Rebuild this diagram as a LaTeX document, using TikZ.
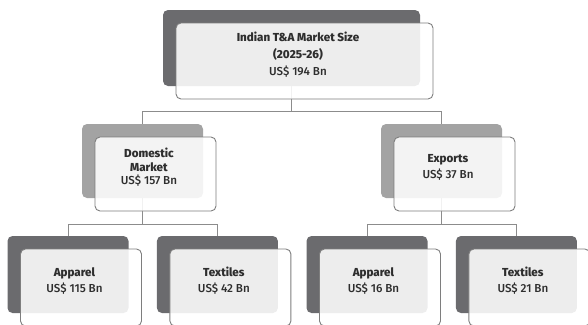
\documentclass[tikz,border=0pt]{standalone}
\usepackage{fontspec}
\setmainfont{Fira Sans}
\newfontfamily\medfont{Fira Sans Medium}
\usetikzlibrary{positioning}
\definecolor{boxdark}{HTML}{6B6B6E}
\definecolor{boxmid}{HTML}{A3A3A3}
\definecolor{edge}{HTML}{7E7E7E}
\definecolor{wire}{HTML}{8C8C8C}
\definecolor{ink}{HTML}{2E2E2E}
\begin{document}
\begin{tikzpicture}[
			x=1pt, y=-1pt,
			backbox/.style={fill=#1, rounded corners=5pt, inner sep=0pt},
			frontbox/.style={draw=edge, line width=0.9pt, fill=white, fill opacity=0.88, rounded corners=5pt, inner sep=0pt, xshift=13pt, yshift=-13pt},
			lvlone/.style={minimum width=257pt, minimum height=76pt},
			lvltwo/.style={minimum width=121pt, minimum height=74pt},
			lvlthree/.style={minimum width=121pt, minimum height=77pt},
			boxtext/.style={align=center, text=ink, inner sep=0pt, xshift=6.5pt, yshift=-6.5pt, font=\fontsize{11.6}{#1}\selectfont\medfont},
			link/.style={draw=wire, line width=0.8pt},
		]
			\useasboundingbox (0,0) rectangle (588,324);
			\clip (0,0) rectangle (588,324);

			% dark backing boxes
			\node[backbox=boxdark, lvlone] (top) at (291.5,48) {};
			\node[backbox=boxmid, lvltwo] (dom) at (142.5,161) {};
			\node[backbox=boxmid, lvltwo] (exp) at (441.5,161) {};
			\node[backbox=boxdark, lvlthree] (dapp) at (68,274.5) {};
			\node[backbox=boxdark, lvlthree, right=28pt of dapp] (dtex) {};
			\node[backbox=boxdark, lvlthree] (eapp) at (367,274.5) {};
			\node[backbox=boxdark, lvlthree, right=28pt of eapp] (etex) {};

			% tree links
			\draw[link] (top.south) -- ++(0,25) -| (dom.north);
			\draw[link] (top.south) -- ++(0,25) -| (exp.north);
			\draw[link] (dom.south) -- ++(0,26) -| (dapp.north);
			\draw[link] (dom.south) -- ++(0,26) -| (dtex.north);
			\draw[link] (exp.south) -- ++(0,26) -| (eapp.north);
			\draw[link] (exp.south) -- ++(0,26) -| (etex.north);

			% light outlined boxes
			\node[frontbox, lvlone] (topf) at (top) {};
			\node[frontbox, lvltwo] (domf) at (dom) {};
			\node[frontbox, lvltwo] (expf) at (exp) {};
			\node[frontbox, lvlthree] (dappf) at (dapp) {};
			\node[frontbox, lvlthree] (dtexf) at (dtex) {};
			\node[frontbox, lvlthree] (eappf) at (eapp) {};
			\node[frontbox, lvlthree] (etexf) at (etex) {};

			% texts
			\node[boxtext=17pt] (topt) at (top) {\textbf{Indian T\&A Market Size}\\\textbf{(2025-26)}\\US\$ 194 Bn};
			\node[boxtext=13.5pt] (domt) at (dom) {\textbf{Domestic}\\\textbf{Market}\\US\$ 157 Bn};
			\node[boxtext=16pt] (expt) at (exp) {\textbf{Exports}\\US\$ 37 Bn};
			\node[boxtext=16pt] (dappt) at (dapp) {\textbf{Apparel}\\US\$ 115 Bn};
			\node[boxtext=16pt] (dtext) at (dtex) {\textbf{Textiles}\\US\$ 42 Bn};
			\node[boxtext=16pt] (eappt) at (eapp) {\textbf{Apparel}\\US\$ 16 Bn};
			\node[boxtext=16pt] (etext) at (etex) {\textbf{Textiles}\\US\$ 21 Bn};
		\end{tikzpicture}
\end{document}
